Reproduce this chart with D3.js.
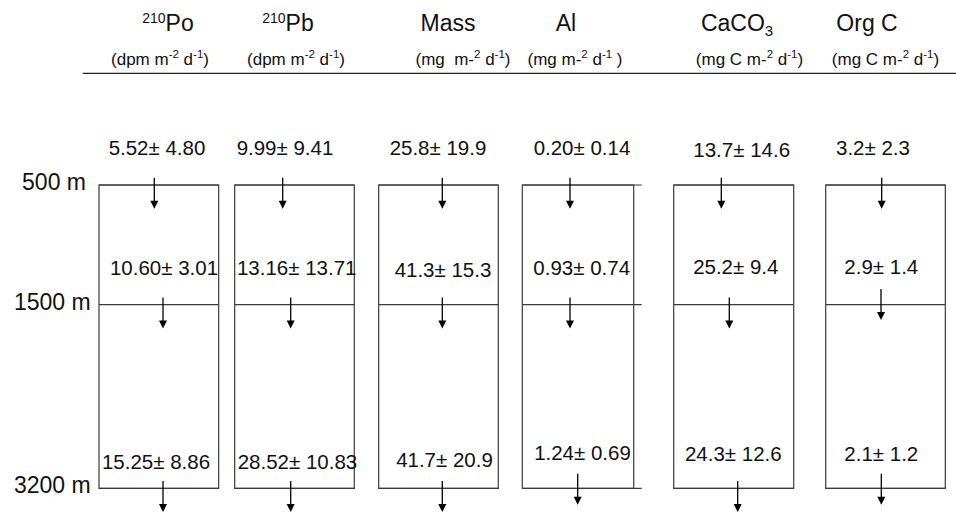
<!DOCTYPE html>
<html>
<head>
<meta charset="utf-8">
<script src="https://cdn.jsdelivr.net/npm/d3@7"></script>
<style>
  html, body { margin: 0; padding: 0; background: #fff; }
  svg { display: block; font-family: "Liberation Sans", Arial, sans-serif; }
</style>
</head>
<body>
<svg id="chart" width="956" height="516"></svg>
<script>
// Particle fluxes through three sediment-trap depths
const species = ["Po210", "Pb210", "Mass", "Al", "CaCO3", "OrgC"];
const titleSup = ["210", "210", "", "", "", ""];
const titleMain = ["Po", "Pb", "Mass", "Al", "CaCO", "Org C"];
const titleSub = ["", "", "", "", "3", ""];
// unit strings as [text, isSuperscript] pieces
const units = [
  [["(dpm m", 0], ["-2", 1], [" d", 0], ["-1", 1], [")", 0]],
  [["(dpm m", 0], ["-2", 1], [" d", 0], ["-1", 1], [")", 0]],
  [["(mg\u00a0\u00a0m-", 0], ["2", 1], [" d", 0], ["-1", 1], [")", 0]],
  [["(mg m-", 0], ["2", 1], [" d", 0], ["-1", 1], [" )", 0]],
  [["(mg C m-", 0], ["2", 1], [" d", 0], ["-1", 1], [")", 0]],
  [["(mg C m-", 0], ["2", 1], [" d", 0], ["-1", 1], [")", 0]]
];
const decimals = [2, 2, 1, 2, 1, 1];

const depths = [500, 1500, 3200];
const depthLabels = ["500 m", "1500 m", "3200 m"];

// flux (mean) and standard deviation entering each depth
const flux500 = [5.52, 9.99, 25.8, 0.20, 13.7, 3.2];
const err500 = [4.80, 9.41, 19.9, 0.14, 14.6, 2.3];
const flux1500 = [10.60, 13.16, 41.3, 0.93, 25.2, 2.9];
const err1500 = [3.01, 13.71, 15.3, 0.74, 9.4, 1.4];
const flux3200 = [15.25, 28.52, 41.7, 1.24, 24.3, 2.1];
const err3200 = [8.86, 10.83, 20.9, 0.69, 12.6, 1.2];

const fluxRows = [flux500, flux1500, flux3200];
const errRows = [err500, err1500, err3200];

// ---- layout ----
const boxLeft = [99, 234.7, 378.7, 522.3, 673.7, 825.7];
const boxWidth = [119.7, 119.6, 119.6, 111.4, 120, 119.6];
const lineExtra = [0, 0, 0, 8, 0, 0];            // horizontal rules running past the box edge
const arrowDx = [[55.3, 64, 64], [48, 56, 56], [63.6, 63.6, 63.6],
                 [47.7, 47.7, 55.4], [47.6, 55.6, 64], [56, 55.3, 55.6]];
const arrowLift = [[0, 0, 0], [0, 0, 0], [0, 0, 0],
                   [0, 0, 7.4], [0, 0, 0], [0, 8.3, 7.4]];
const labelDx = [[58, 65, 57], [50.3, 62, 62.8], [59.3, 64.3, 65.8],
                 [59.7, 59.4, 60.2], [68, 62.1, 59.6], [47.3, 55.6, 55.6]];
const labelBase = [[155, 275, 469.3], [155, 275, 469.3], [155, 276.7, 467.3],
                   [155, 275, 460], [156.7, 274.3, 460.7], [155, 274, 460.7]];

const svg = d3.select("#chart");

const x = d3.scaleOrdinal().domain(species).range(boxLeft);
const w = d3.scaleOrdinal().domain(species).range(boxWidth);
const y = d3.scaleLinear().domain(depths).range([185, 304.7, 488.4]);

const boxStroke = "#3a3a3a";

// header rule
svg.append("line")
  .attr("x1", 82.7).attr("x2", 956)
  .attr("y1", 73.3).attr("y2", 73.3)
  .attr("stroke", "#222").attr("stroke-width", 1.3);

// column titles
const titleCx = [168, 288, 448, 566, 737, 867];
species.forEach((s, i) => {
  const t = svg.append("text")
    .attr("x", titleCx[i]).attr("y", 30.7)
    .attr("text-anchor", "middle")
    .attr("font-size", 23).attr("fill", "#111");
  if (titleSup[i]) t.append("tspan").attr("font-size", 14).attr("dy", -8).text(titleSup[i]);
  t.append("tspan").attr("dy", titleSup[i] ? 8 : 0).text(titleMain[i]);
  if (titleSub[i]) t.append("tspan").attr("font-size", 15).attr("dy", 5).text(titleSub[i]);
});

// unit lines
const unitCx = [160, 296, 463, 575, 749.5, 885.5];
species.forEach((s, i) => {
  const t = svg.append("text")
    .attr("x", unitCx[i]).attr("y", 64.5)
    .attr("text-anchor", "middle")
    .attr("font-size", 17).attr("fill", "#111")
    .attr("xml:space", "preserve");
  let up = false;
  units[i].forEach(([txt, sup]) => {
    const sp = t.append("tspan").text(txt);
    if (sup && !up) { sp.attr("font-size", 11.5).attr("dy", -6.5); up = true; }
    else if (!sup && up) { sp.attr("dy", 6.5); up = false; }
    else if (sup) { sp.attr("font-size", 11.5); }
  });
});

// depth labels
const depthRight = [86, 90.7, 90.7];
svg.selectAll("text.depth").data(depths).join("text")
  .attr("class", "depth")
  .attr("x", (d, i) => depthRight[i])
  .attr("y", d => y(d) + 5)
  .attr("text-anchor", "end")
  .attr("font-size", 23).attr("fill", "#111")
  .text((d, i) => depthLabels[i]);

// boxes: outline from top trap to bottom trap, rule at the middle trap
const cols = svg.selectAll("g.col").data(species).join("g").attr("class", "col");

cols.append("rect")
  .attr("x", d => x(d))
  .attr("y", y(depths[0]))
  .attr("width", d => w(d))
  .attr("height", y(depths[2]) - y(depths[0]))
  .attr("fill", "none").attr("stroke", boxStroke).attr("stroke-width", 1.2);

cols.each(function (d, i) {
  const g = d3.select(this);
  depths.forEach(dep => {
    g.append("line")
      .attr("x1", x(d)).attr("x2", x(d) + w(d) + lineExtra[i])
      .attr("y1", y(dep)).attr("y2", y(dep))
      .attr("stroke", boxStroke).attr("stroke-width", 1.2);
  });
});

// downward flux arrows
const arrowLen = 31;
const headLen = 8, headHalf = 4;
cols.each(function (d, i) {
  const g = d3.select(this);
  depths.forEach((dep, r) => {
    const ax = x(d) + arrowDx[i][r];
    const y0 = y(dep) - 7.3 - arrowLift[i][r];
    const y1 = y0 + arrowLen;
    g.append("line")
      .attr("x1", ax).attr("x2", ax)
      .attr("y1", y0).attr("y2", y1 - headLen + 1)
      .attr("stroke", "#000").attr("stroke-width", 1.3);
    g.append("path")
      .attr("d", `M${ax - headHalf},${y1 - headLen}L${ax + headHalf},${y1 - headLen}L${ax},${y1}Z`)
      .attr("fill", "#000");
  });
});

// flux value labels
cols.each(function (d, i) {
  const g = d3.select(this);
  const fmt = d3.format(`.${decimals[i]}f`);
  fluxRows.forEach((row, r) => {
    g.append("text")
      .attr("x", x(d) + labelDx[i][r])
      .attr("y", labelBase[i][r])
      .attr("text-anchor", "middle")
      .attr("font-size", 20.5).attr("fill", "#111")
      .attr("xml:space", "preserve")
      .text(`${fmt(row[i])}\u00b1 ${fmt(errRows[r][i])}`);
  });
});
</script>
</body>
</html>
